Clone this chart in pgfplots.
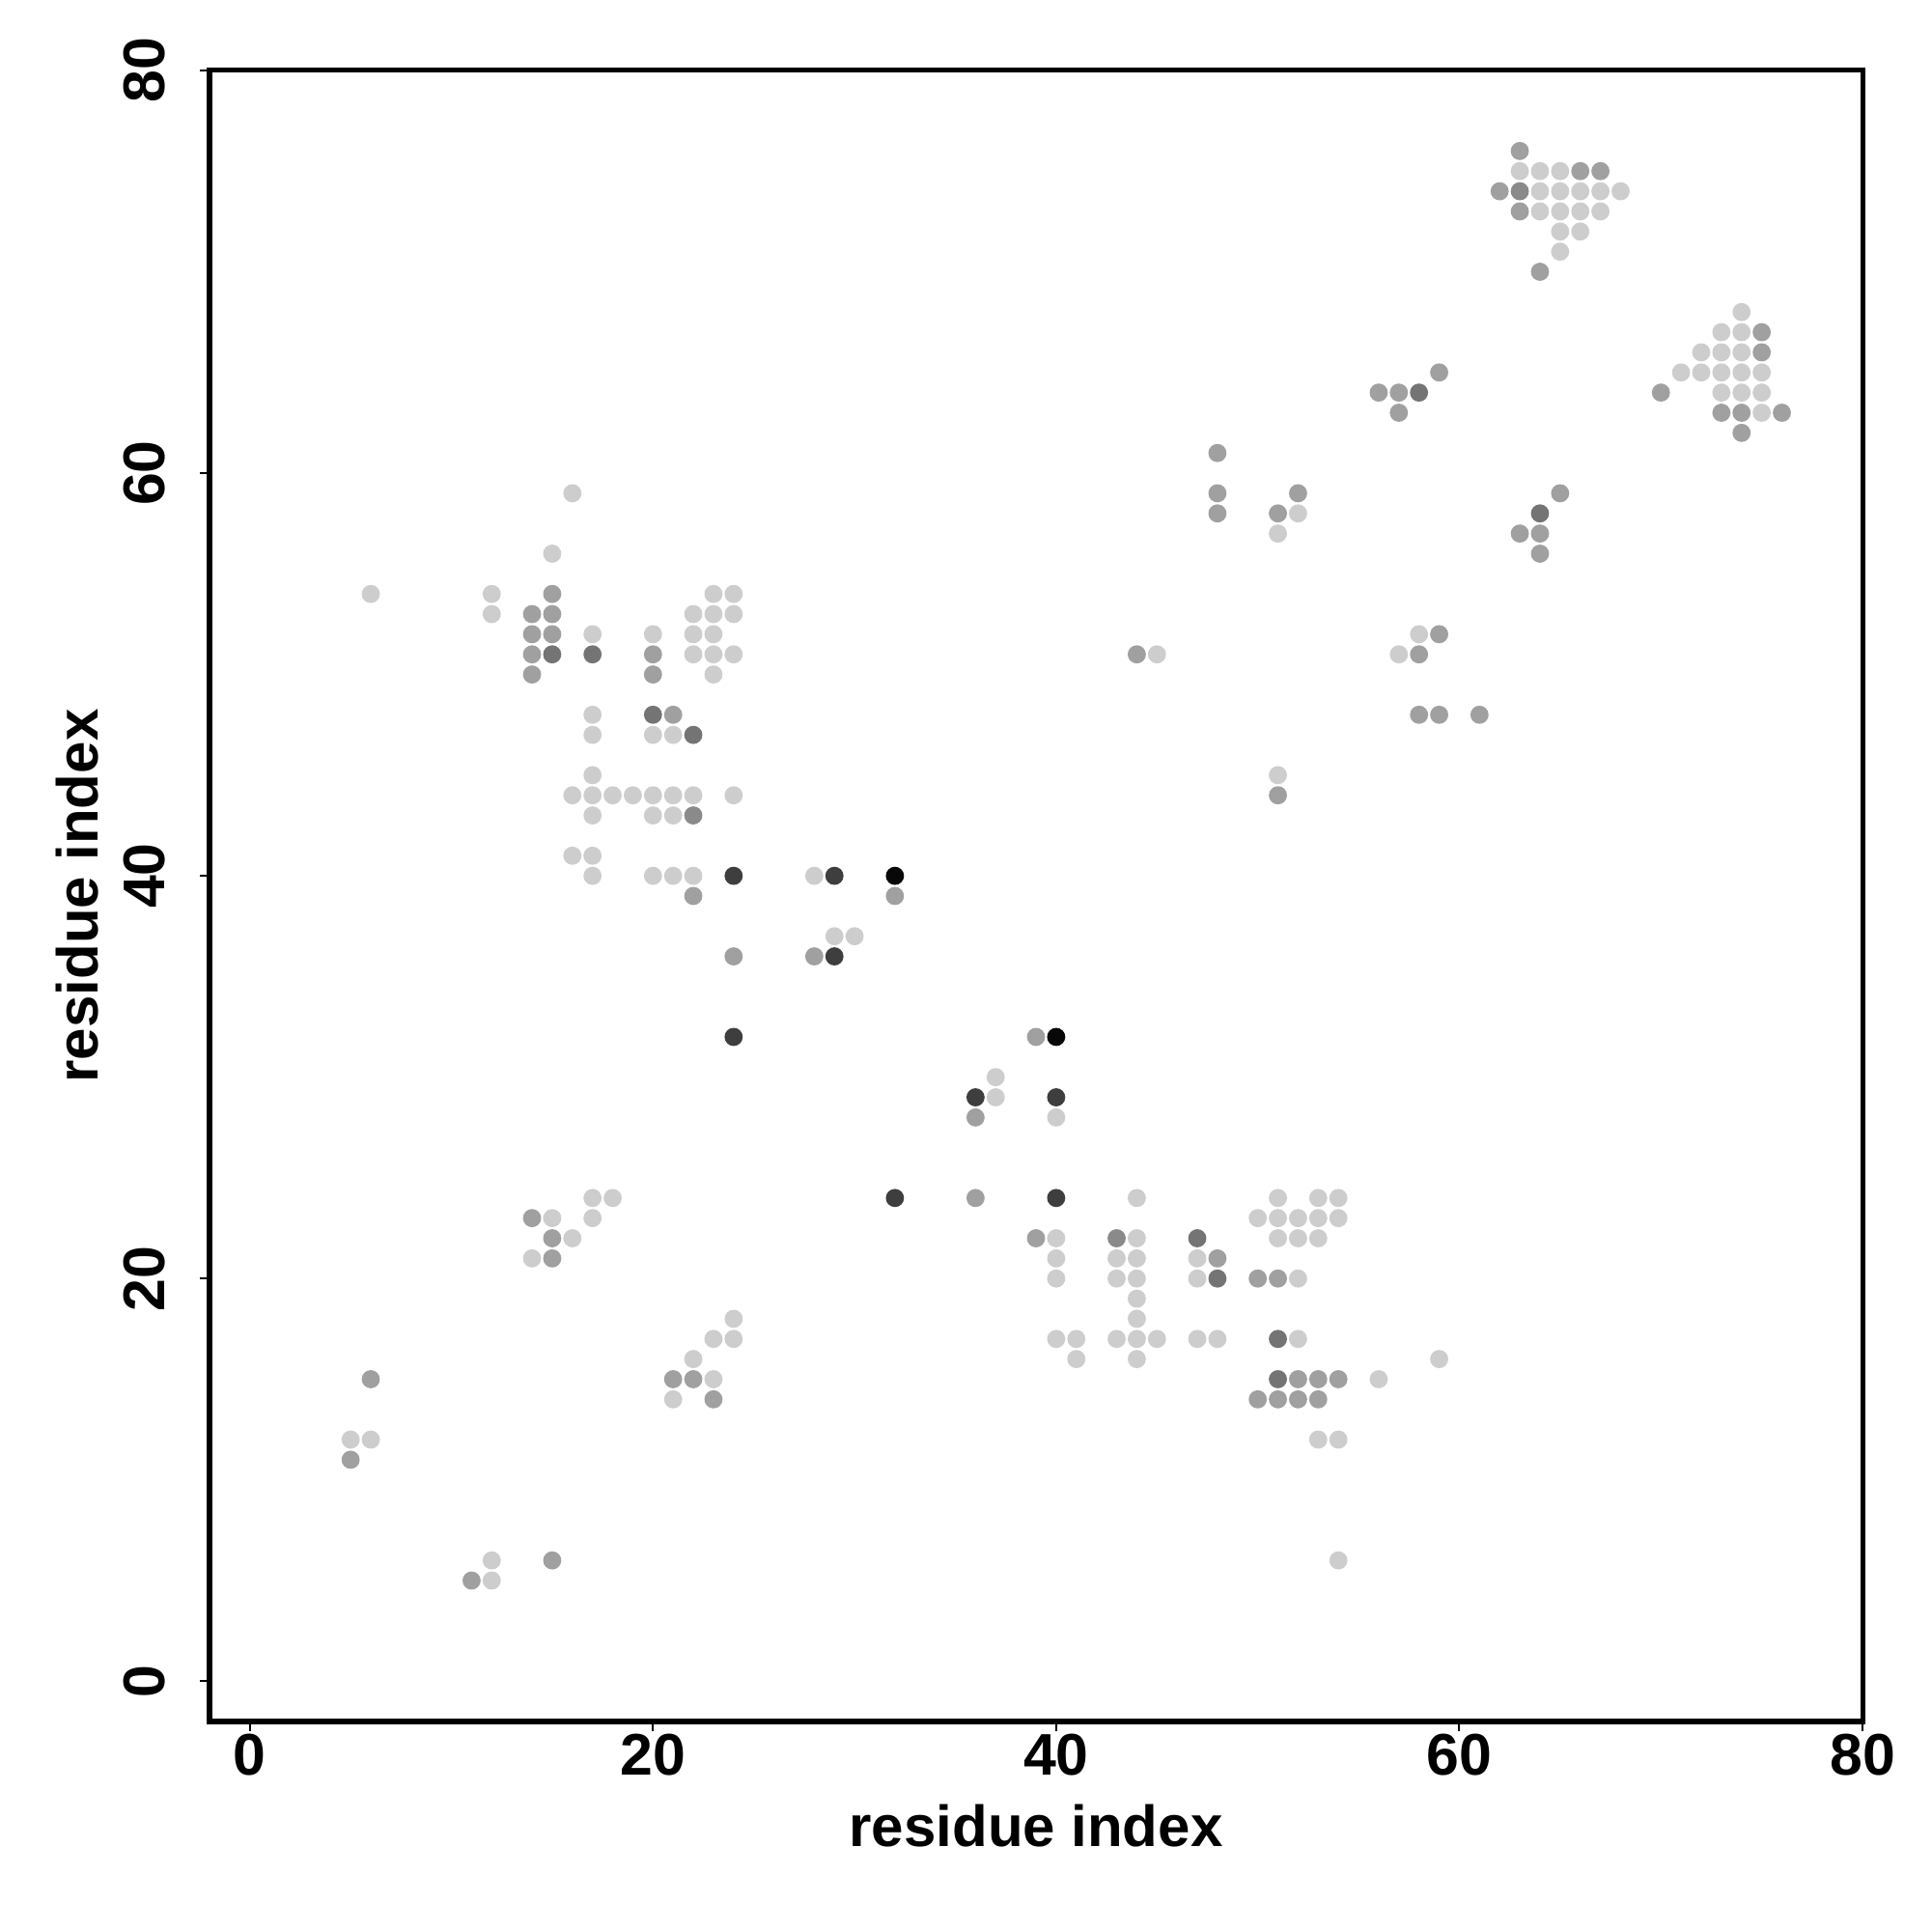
\documentclass[border=0pt]{standalone}
\usepackage{pgfplots}
\pgfplotsset{compat=1.18}
\usepackage{fontspec}
\setmainfont{Liberation Sans}
\definecolor{cL}{RGB}{205,205,205}
\definecolor{cM}{RGB}{160,160,160}
\definecolor{cMD}{RGB}{138,138,138}
\definecolor{cD}{RGB}{116,116,116}
\definecolor{cDD}{RGB}{62,62,62}
\definecolor{cK}{RGB}{8,8,8}
\begin{document}
\begin{tikzpicture}
\begin{axis}[
  scale only axis, width=428pt, height=427.5pt,
  xmin=-2, xmax=80, ymin=-2, ymax=80,
  axis line style={line width=1.25pt},
  tick align=outside, major tick length=2.5pt,
  tick style={line width=0.5pt,black},
  xtick={0,20,40,60,80}, xticklabels={0,20,40,60,80},
  ytick={0,20,40,60,80}, yticklabels={0,20,40,60,80},
  xtick pos=bottom, ytick pos=left,
  ticklabel style={font=\fontsize{15.2}{18}\selectfont\bfseries, inner sep=0pt},
  xticklabel style={anchor=north},
  yticklabel style={rotate=90, anchor=south},
  xticklabel shift=0.5pt, yticklabel shift=8.75pt,
  xlabel={residue index}, ylabel={residue index},
  label style={font=\fontsize{15}{18}\selectfont\bfseries, inner sep=0pt},
  xlabel style={at={(axis description cs:0.5,-0.07544)}, anchor=base},
  ylabel style={at={(axis description cs:-0.0672,0.5)}, anchor=base},
  clip=false,
]
% light
\addplot[only marks, mark=*, color=cL, mark size=2.15pt] coordinates {
(63,75)(64,75)(65,75)
(64,74)(65,74)(66,74)(67,74)(68,74)
(64,73)(65,73)(66,73)(67,73)
(65,72)(66,72)(65,71)
(74,68)(73,67)(74,67)
(72,66)(73,66)(74,66)
(71,65)(72,65)(73,65)(74,65)(75,65)
(73,64)(74,64)(75,64)(75,63)
(52,58)(51,57)(58,52)(45,51)(57,51)(51,45)
(16,59)(15,56)
(6,54)(12,54)(23,54)(24,54)
(12,53)(22,53)(23,53)(24,53)
(17,52)(20,52)(22,52)(23,52)
(22,51)(23,51)(24,51)
(23,50)
(17,48)
(17,47)(20,47)(21,47)
(17,45)
(16,44)(17,44)(18,44)(19,44)(20,44)(21,44)(22,44)(24,44)
(17,43)(20,43)(21,43)
(16,41)(17,41)
(17,40)(20,40)(21,40)(22,40)
(28,40)(29,37)(30,37)(37,30)(37,29)(40,28)
(17,24)(18,24)(15,23)(17,23)(16,22)(14,21)
(24,18)(23,17)(24,17)(22,16)(23,15)(21,14)
(5,12)(6,12)(12,6)(12,5)
(44,24)(51,24)(53,24)(54,24)
(50,23)(51,23)(52,23)(53,23)(54,23)
(40,22)(44,22)(51,22)(52,22)(53,22)
(40,21)(43,21)(44,21)(47,21)
(40,20)(43,20)(44,20)(47,20)(52,20)
(44,19)(44,18)
(40,17)(41,17)(43,17)(44,17)(45,17)(47,17)(48,17)(52,17)
(41,16)(44,16)
(56,15)(53,12)(54,12)(54,6)(59,16)
};
% medium
\addplot[only marks, mark=*, color=cM, mark size=2.15pt] coordinates {
(63,76)(66,75)(67,75)(62,74)(63,73)(64,70)
(75,67)(75,66)(70,64)(73,63)(74,63)(76,63)(74,62)
(59,65)(56,64)(57,64)(57,63)
(48,61)(48,59)(52,59)(65,59)(48,58)(51,58)
(63,57)(64,57)(64,56)
(59,52)(44,51)(58,51)
(58,48)(59,48)(61,48)(51,44)
(15,54)(14,53)(15,53)(14,52)(15,52)(14,51)(20,51)(14,50)(20,50)
(21,48)(22,39)(24,36)
(32,39)(28,36)(39,32)(36,28)(36,24)
(14,23)(15,22)(15,21)
(6,15)(21,15)(22,15)(23,14)
(5,11)(15,6)(11,5)
(39,22)(48,21)(50,20)(51,20)
(52,15)(53,15)(54,15)
(50,14)(51,14)(52,14)(53,14)
};
% medium-dark
\addplot[only marks, mark=*, color=cMD, mark size=2.15pt] coordinates {
(63,74)(22,43)(43,22)
};
% dark
\addplot[only marks, mark=*, color=cD, mark size=2.15pt] coordinates {
(58,64)(64,58)(15,51)(17,51)(20,48)(22,47)
(47,22)(48,20)(51,17)(51,15)
};
% very dark
\addplot[only marks, mark=*, color=cDD, mark size=2.15pt] coordinates {
(24,40)(24,32)(29,40)(29,36)(36,29)(40,29)(32,24)(40,24)
};
% black
\addplot[only marks, mark=*, color=cK, mark size=2.15pt] coordinates {
(32,40)(40,32)
};
\end{axis}
\path ([shift={(-54.25pt,-54.25pt)}]current axis.south west) rectangle ([shift={(17.75pt,18.25pt)}]current axis.north east);
\end{tikzpicture}
\end{document}
